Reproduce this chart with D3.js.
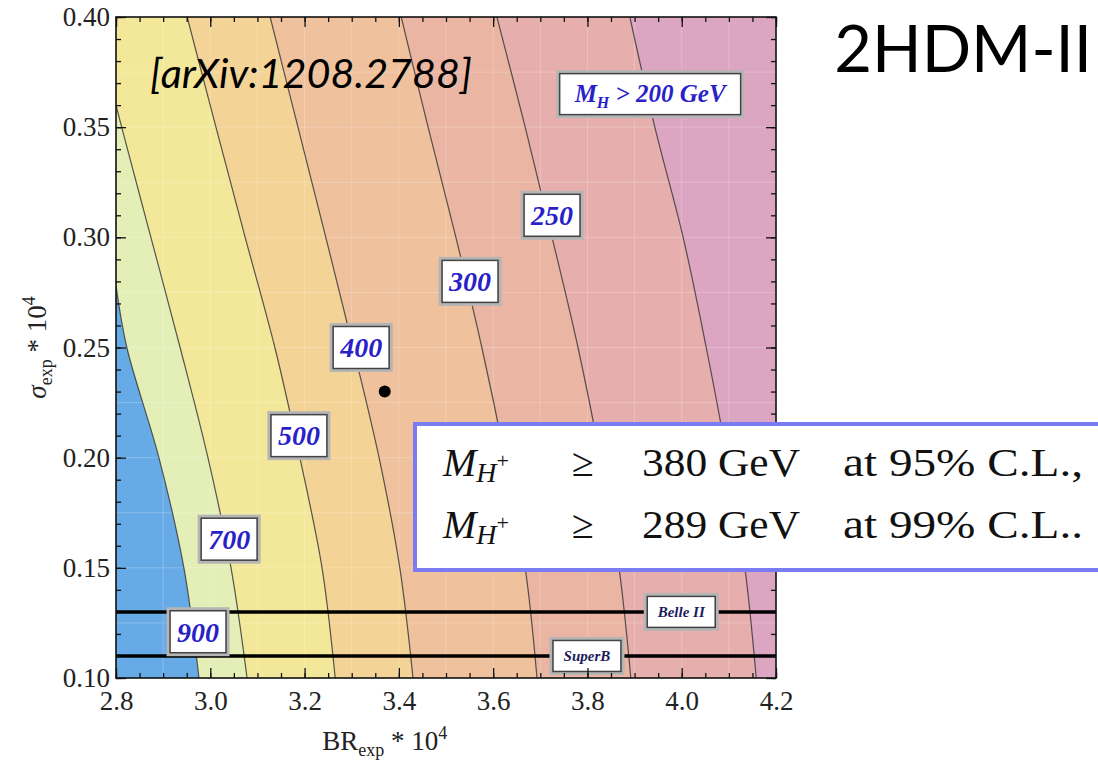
<!DOCTYPE html>
<html>
<head>
<meta charset="utf-8">
<script src="https://cdn.jsdelivr.net/npm/d3@7"></script>
<style>
  body { margin: 0; background: #fff; }
  svg { display: block; }
</style>
</head>
<body>
<svg id="chart" width="1098" height="762"></svg>
<script>
// contour lines of M_H+ (GeV), read as [BR_exp*1e4, sigma_exp*1e4]
const contourMasses = [900, 700, 500, 400, 300, 250, 200];
const contour900 = [[2.976, 0.10], [2.944, 0.15], [2.891, 0.20], [2.823, 0.25], [2.80, 0.278]];
const contour700 = [[3.078, 0.10], [3.044, 0.15], [2.995, 0.20], [2.936, 0.25], [2.874, 0.30], [2.812, 0.35], [2.80, 0.360]];
const contour500 = [[3.265, 0.10], [3.237, 0.15], [3.190, 0.20], [3.137, 0.25], [3.074, 0.30], [3.012, 0.35], [2.951, 0.40]];
const contour400 = [[3.430, 0.10], [3.402, 0.15], [3.358, 0.20], [3.303, 0.25], [3.245, 0.30], [3.186, 0.35], [3.127, 0.40]];
const contour300 = [[3.693, 0.10], [3.668, 0.15], [3.625, 0.20], [3.576, 0.25], [3.521, 0.30], [3.462, 0.35], [3.405, 0.40]];
const contour250 = [[3.892, 0.10], [3.867, 0.15], [3.827, 0.20], [3.780, 0.25], [3.725, 0.30], [3.668, 0.35], [3.608, 0.40]];
const contour200 = [[4.158, 0.10], [4.134, 0.15], [4.096, 0.20], [4.052, 0.25], [4.003, 0.30], [3.943, 0.35], [3.890, 0.40]];
const contours = [contour900, contour700, contour500, contour400, contour300, contour250, contour200];

// label anchors for the contour values
const labelBR = [2.974, 3.040, 3.188, 3.320, 3.551, 3.725];
const labelSigma = [0.121, 0.163, 0.210, 0.250, 0.280, 0.310];
const noteBR = 3.933, noteSigma = 0.365;

// measured point and future experiments
const measured = [3.37, 0.23];
const expNames = ["Belle II", "SuperB"];
const expSigma = [0.13, 0.11];
const expLabelBR = [3.999, 3.799];

const limitMass = ["380", "289"];
const limitCL = ["95% C.L.,", "99% C.L.."];

const regionColors = ["#67abe6", "#e3efb7", "#f3e899", "#f4d396", "#efc19d", "#eab5a2", "#e6afad", "#dca5c2"];

(function() {
  const svg = d3.select("#chart");
  const margin = {left: 116, top: 17},
    width = 660, height = 661;
  const serif = "'Liberation Serif', serif";

  const x = d3.scaleLinear().domain([2.8, 4.2]).range([0, width]);
  const y = d3.scaleLinear().domain([0.10, 0.40]).range([height, 0]);

  const g = svg.append("g")
    .attr("transform", "translate(" + margin.left + "," + margin.top + ")");

  g.append("clipPath").attr("id", "plotclip")
    .append("rect").attr("width", width).attr("height", height);

  const plot = g.append("g").attr("clip-path", "url(#plotclip)");

  plot.append("rect")
    .attr("width", width).attr("height", height)
    .attr("fill", regionColors[0]);

  const line = d3.line()
    .x(d => x(d[0]))
    .y(d => y(d[1]))
    .curve(d3.curveCatmullRom);

  // fill everything to the right of each contour with the next colour
  contours.forEach(function(c, i) {
    let corners = [];
    let top = c[c.length - 1];
    if (top[1] < y.domain()[1]) corners.push([x.domain()[0], y.domain()[1]]);
    corners.push([x.domain()[1], y.domain()[1]], [x.domain()[1], y.domain()[0]]);
    let d = line(c) + corners.map(p => "L" + x(p[0]) + "," + y(p[1])).join("") + "Z";
    plot.append("path")
      .attr("d", d)
      .attr("fill", regionColors[i + 1]);
  });

  // faint mesh
  plot.append("g").selectAll("line")
    .data(d3.range(2.9, 4.2, 0.1))
    .enter().append("line")
      .attr("x1", d => x(d)).attr("x2", d => x(d))
      .attr("y1", 0).attr("y2", height)
      .attr("stroke", "#fff").attr("stroke-opacity", 0.22);
  plot.append("g").selectAll("line")
    .data(d3.range(0.125, 0.40, 0.025))
    .enter().append("line")
      .attr("y1", d => y(d)).attr("y2", d => y(d))
      .attr("x1", 0).attr("x2", width)
      .attr("stroke", "#fff").attr("stroke-opacity", 0.22);

  plot.selectAll(".contour")
    .data(contours)
    .enter().append("path")
      .attr("class", "contour")
      .attr("d", line)
      .attr("fill", "none")
      .attr("stroke", "#3b3b3b")
      .attr("stroke-opacity", 0.85)
      .attr("stroke-width", 1.2);

  plot.selectAll(".exp")
    .data(expSigma)
    .enter().append("line")
      .attr("class", "exp")
      .attr("x1", 0).attr("x2", width)
      .attr("y1", d => y(d)).attr("y2", d => y(d))
      .attr("stroke", "#000")
      .attr("stroke-width", 3.5);

  plot.append("circle")
    .attr("cx", x(measured[0]))
    .attr("cy", y(measured[1]))
    .attr("r", 6)
    .attr("fill", "#000");

  function framedBox(parent, cx, cy, w, h) {
    let b = parent.append("g").attr("transform", "translate(" + cx + "," + cy + ")");
    b.append("rect")
      .attr("x", -w / 2).attr("y", -h / 2).attr("width", w).attr("height", h)
      .attr("fill", "#fff").attr("stroke", "#b5b5b5").attr("stroke-width", 4);
    b.append("rect")
      .attr("x", -w / 2 + 1.5).attr("y", -h / 2 + 1.5).attr("width", w - 3).attr("height", h - 3)
      .attr("fill", "none").attr("stroke", "#444").attr("stroke-width", 1.5);
    return b;
  }

  labelBR.forEach(function(br, i) {
    let b = framedBox(g, x(br), y(labelSigma[i]), 59, 45);
    b.append("text")
      .attr("text-anchor", "middle")
      .attr("dy", "0.35em")
      .style("font-family", serif)
      .attr("font-weight", "bold")
      .attr("font-style", "italic")
      .attr("font-size", 28)
      .attr("fill", "#2a1fc8")
      .text(contourMasses[i]);
  });

  let note = framedBox(g, x(noteBR), y(noteSigma), 184, 44);
  let noteText = note.append("text")
    .attr("text-anchor", "middle")
    .attr("dy", "0.33em")
    .style("font-family", serif)
    .attr("font-weight", "bold")
    .attr("font-style", "italic")
    .attr("font-size", 25)
    .attr("fill", "#2a1fc8");
  noteText.append("tspan").text("M");
  noteText.append("tspan").attr("font-size", 16).attr("dy", 6).text("H");
  noteText.append("tspan").attr("dy", -6).text(" > 200 GeV");

  expNames.forEach(function(name, i) {
    let b = framedBox(g, x(expLabelBR[i]), y(expSigma[i]), 71, 34);
    b.append("text")
      .attr("text-anchor", "middle")
      .attr("dy", "0.35em")
      .style("font-family", serif)
      .attr("font-weight", "bold")
      .attr("font-style", "italic")
      .attr("font-size", 15)
      .attr("fill", "#1c1c5c")
      .text(name);
  });

  // axes, ticks pointing inward on all four sides
  function minor(axis, scale, vals) {
    return axis(scale).tickValues(vals).tickSize(-5).tickFormat("");
  }
  const xMinor = d3.range(2.8, 4.2001, 0.05);
  const yMinor = d3.range(0.10, 0.4001, 0.01);

  g.append("g").attr("transform", "translate(0," + height + ")")
    .call(d3.axisBottom(x).ticks(7).tickSize(-10).tickPadding(13).tickFormat(d3.format(".1f")));
  g.append("g").attr("transform", "translate(0," + height + ")").call(minor(d3.axisBottom, x, xMinor));
  g.append("g").call(d3.axisTop(x).ticks(7).tickSize(-10).tickFormat(""));
  g.append("g").call(minor(d3.axisTop, x, xMinor));
  g.append("g")
    .call(d3.axisLeft(y).ticks(6).tickSize(-10).tickPadding(6).tickFormat(d3.format(".2f")));
  g.append("g").call(minor(d3.axisLeft, y, yMinor));
  g.append("g").attr("transform", "translate(" + width + ",0)")
    .call(d3.axisRight(y).ticks(6).tickSize(-10).tickFormat(""));
  g.append("g").attr("transform", "translate(" + width + ",0)").call(minor(d3.axisRight, y, yMinor));

  g.selectAll(".domain").remove();
  g.selectAll(".tick line").attr("stroke", "#111").attr("stroke-width", 1.3);
  g.selectAll(".tick text")
    .style("font-family", serif)
    .style("font-size", "27px")
    .attr("fill", "#222");

  g.append("rect")
    .attr("width", width).attr("height", height)
    .attr("fill", "none").attr("stroke", "#111").attr("stroke-width", 1.6);

  // axis titles
  let xt = svg.append("text")
    .attr("x", margin.left + x(3.37)).attr("y", 750)
    .attr("text-anchor", "middle")
    .style("font-family", serif)
    .attr("font-size", 27)
    .attr("fill", "#222");
  xt.append("tspan").text("BR");
  xt.append("tspan").attr("font-size", 18).attr("dy", 6).text("exp");
  xt.append("tspan").attr("dy", -6).text(" * 10");
  xt.append("tspan").attr("font-size", 18).attr("dy", -11).text("4");

  let yt = svg.append("text")
    .attr("transform", "translate(46," + (margin.top + y(0.25)) + ") rotate(-90)")
    .attr("text-anchor", "middle")
    .style("font-family", serif)
    .attr("font-size", 27)
    .attr("fill", "#222");
  yt.append("tspan").attr("font-style", "italic").text("σ");
  yt.append("tspan").attr("font-size", 18).attr("dy", 6).text("exp");
  yt.append("tspan").attr("dy", -6).text(" * 10");
  yt.append("tspan").attr("font-size", 18).attr("dy", -11).text("4");

  svg.append("text")
    .attr("x", 150).attr("y", 88)
    .attr("font-family", "Lato, sans-serif")
    .attr("font-style", "italic")
    .attr("font-size", 41)
    .attr("textLength", 322)
    .attr("lengthAdjust", "spacingAndGlyphs")
    .attr("fill", "#000")
    .text("[arXiv:1208.2788]");

  svg.append("text")
    .attr("x", 1092).attr("y", 72)
    .attr("text-anchor", "end")
    .attr("font-family", "Lato, sans-serif")
    .attr("font-size", 65)
    .attr("fill", "#000")
    .text("2HDM-II");

  // limits box
  const box = svg.append("g");
  box.append("rect")
    .attr("x", 415).attr("y", 424).attr("width", 720).attr("height", 146)
    .attr("fill", "#fff").attr("stroke", "#7b7bf4").attr("stroke-width", 4);

  limitMass.forEach(function(m, i) {
    let base = 476 + i * 62;
    let t = box.append("text")
      .attr("y", base)
      .style("font-family", serif)
      .attr("font-size", 40)
      .attr("fill", "#111");
    t.append("tspan").attr("x", 443).attr("font-style", "italic").text("M");
    t.append("tspan").attr("font-style", "italic").attr("font-size", 28).attr("dy", 6).text("H");
    t.append("tspan").attr("font-size", 22).attr("dy", -14).text("+");
    box.append("text")
      .attr("x", 572).attr("y", base)
      .style("font-family", serif).attr("font-size", 40).attr("fill", "#111")
      .text("≥");
    box.append("text")
      .attr("x", 642).attr("y", base)
      .style("font-family", serif).attr("font-size", 40).attr("fill", "#111")
      .attr("textLength", 158).attr("lengthAdjust", "spacingAndGlyphs")
      .text(m + " GeV");
    box.append("text")
      .attr("x", 843).attr("y", base)
      .style("font-family", serif).attr("font-size", 40).attr("fill", "#111")
      .attr("textLength", 240).attr("lengthAdjust", "spacingAndGlyphs")
      .text("at " + limitCL[i]);
  });
})();
</script>
</body>
</html>
